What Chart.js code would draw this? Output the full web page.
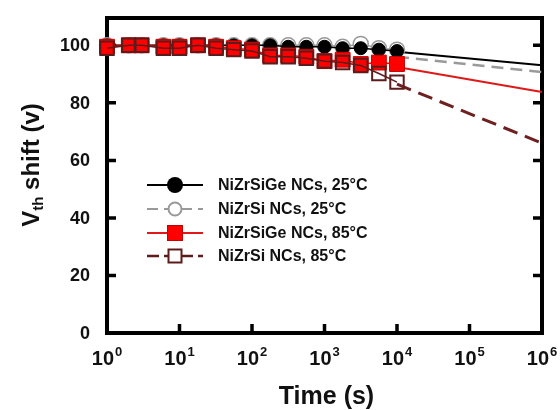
<!DOCTYPE html>
<html>
<head>
<meta charset="utf-8">
<script src="https://cdn.jsdelivr.net/npm/chart.js@4.4.1/dist/chart.umd.min.js"></script>
<style>
  html, body { margin: 0; padding: 0; background: #ffffff; }
  #wrap { width: 560px; height: 410px; }
</style>
</head>
<body>
<div id="wrap"><canvas id="c" width="560" height="410"></canvas></div>
<script>
// ---- data ----
const timeS = [1, 2, 3, 6, 10, 18, 32, 56, 100, 178, 316, 562, 1000, 1778, 3162, 5623, 10000];
const niZrSiGe25 = [100, 100, 100, 100, 100, 100, 100, 100, 100, 100, 99.5, 99.5, 99.5, 99, 99, 98.5, 98];
const niZrSi25   = [100, 100, 100, 100, 100, 100, 100, 100, 100, 100, 100, 100, 100, 99.5, 100.5, 99, 98.5];
const niZrSiGe85 = [99.5, 100, 100, 99.5, 99.5, 100, 99.5, 99, 98.5, 96.5, 96.5, 96, 94.5, 95, 93.5, 94, 93.5];
const niZrSi85   = [99, 100, 100, 99, 99, 100, 99, 98.5, 98, 96, 96, 95.5, 94.5, 94, 93, 90.2, 87.2];

const fitTimes = [10000, 1000000];
const fitNiZrSiGe25 = [97.8, 93.1];
const fitNiZrSi25   = [96.0, 90.7];
const fitNiZrSiGe85 = [92.5, 83.8];
const fitNiZrSi85   = [86.5, 66.0];

const seriesLabels = ['NiZrSiGe NCs, 25°C', 'NiZrSi NCs, 25°C', 'NiZrSiGe NCs, 85°C', 'NiZrSi NCs, 85°C'];
const yTickValues = [0, 20, 40, 60, 80, 100];
const xTickExponents = [0, 1, 2, 3, 4, 5, 6];
const xTitle = 'Time (s)';
const yTitleMain = 'V';
const yTitleSub = 'th';
const yTitleRest = ' shift (v)';

// ---- styles ----
const C_BLACK = '#000000';
const C_GRAY = '#999999';
const C_RED = '#ff0000';
const C_REDB = '#c40000';
const C_DRED = '#5e1b1b';
const FONT = '"Liberation Sans", Arial, Helvetica, sans-serif';

function pts(xs, ys) { return xs.map((x, i) => ({ x: x, y: ys[i] })); }

const datasets = [
  { data: pts(timeS, niZrSi85), order: 1, borderColor: C_DRED, borderWidth: 1.5, pointStyle: 'rect', pointRadius: 9.5,
    pointBackgroundColor: 'rgba(0,0,0,0)', pointBorderColor: C_DRED, pointBorderWidth: 2, clip: false },
  { data: pts(timeS, niZrSiGe85), order: 2, borderColor: C_RED, borderWidth: 1.5, pointStyle: 'rect', pointRadius: 10.5,
    pointBackgroundColor: C_RED, pointBorderColor: C_REDB, pointBorderWidth: 1, clip: false },
  { data: pts(timeS, niZrSiGe25), order: 3, borderColor: C_BLACK, borderWidth: 1.5, pointStyle: 'circle', pointRadius: 6.5,
    pointBackgroundColor: C_BLACK, pointBorderColor: C_BLACK, pointBorderWidth: 1, clip: false },
  { data: pts(timeS, niZrSi25), order: 4, borderColor: C_GRAY, borderWidth: 1.5, pointStyle: 'circle', pointRadius: 7.5,
    pointBackgroundColor: '#ffffff', pointBorderColor: C_GRAY, pointBorderWidth: 1.5, clip: false },
  { data: pts(fitTimes, fitNiZrSiGe25), order: 10, borderColor: C_BLACK, borderWidth: 2, pointRadius: 0, clip: false },
  { data: pts(fitTimes, fitNiZrSi25), order: 11, borderColor: '#9a9a9a', borderWidth: 2.5, borderDash: [12, 7], pointRadius: 0, clip: false },
  { data: pts(fitTimes, fitNiZrSiGe85), order: 12, borderColor: '#e01818', borderWidth: 2, pointRadius: 0, clip: false },
  { data: pts(fitTimes, fitNiZrSi85), order: 13, borderColor: '#6e2020', borderWidth: 3, borderDash: [15, 8], pointRadius: 0, clip: false }
];

const framePlugin = {
  id: 'frame',
  beforeDatasetsDraw(chart) {
    const { ctx, chartArea: a, scales } = chart;
    ctx.save();
    ctx.strokeStyle = '#000';
    ctx.lineWidth = 4;
    ctx.strokeRect(a.left, a.top, a.right - a.left, a.bottom - a.top);
    ctx.lineWidth = 3.5;
    ctx.beginPath();
    yTickValues.forEach(v => {
      if (v === 0) return;
      const y = scales.y.getPixelForValue(v);
      ctx.moveTo(a.left, y); ctx.lineTo(a.left + 9, y);
      ctx.moveTo(a.right, y); ctx.lineTo(a.right - 9, y);
    });
    xTickExponents.forEach(e => {
      if (e === 0 || e === 6) return;
      const x = scales.x.getPixelForValue(Math.pow(10, e));
      ctx.moveTo(x, a.bottom); ctx.lineTo(x, a.bottom - 9);
    });
    ctx.stroke();
    ctx.restore();
  },
  afterDraw(chart) {
    const { ctx, chartArea: a, scales } = chart;
    ctx.save();
    ctx.fillStyle = '#111';
    // y tick labels
    ctx.font = 'bold 18px ' + FONT;
    ctx.textAlign = 'right';
    ctx.textBaseline = 'middle';
    yTickValues.forEach(v => {
      ctx.fillText(String(v), 90, scales.y.getPixelForValue(v) + 1);
    });
    // x tick labels 10^n
    ctx.textBaseline = 'alphabetic';
    ctx.textAlign = 'left';
    xTickExponents.forEach(e => {
      const x = scales.x.getPixelForValue(Math.pow(10, e));
      ctx.font = 'bold 20px ' + FONT;
      const wb = ctx.measureText('10').width;
      ctx.font = 'bold 13px ' + FONT;
      const ws = ctx.measureText(String(e)).width;
      const x0 = x - (wb + ws + 1) / 2;
      ctx.font = 'bold 20px ' + FONT;
      ctx.fillText('10', x0, a.bottom + 32);
      ctx.font = 'bold 13px ' + FONT;
      ctx.fillText(String(e), x0 + wb + 1, a.bottom + 23);
    });
    // x title
    ctx.font = 'bold 25px ' + FONT;
    ctx.textAlign = 'center';
    ctx.fillText(xTitle, (a.left + a.right) / 2 + 2, 404);
    // y title (rotated, with subscript)
    ctx.translate(39, 165);
    ctx.rotate(-Math.PI / 2);
    ctx.textAlign = 'left';
    ctx.font = 'bold 24px ' + FONT;
    const w1 = ctx.measureText(yTitleMain).width;
    const w3 = ctx.measureText(yTitleRest).width;
    ctx.font = 'bold 15px ' + FONT;
    const w2 = ctx.measureText(yTitleSub).width;
    let sx = -(w1 + w2 + w3) / 2;
    ctx.font = 'bold 24px ' + FONT;
    ctx.fillText(yTitleMain, sx, 0);
    ctx.font = 'bold 15px ' + FONT;
    ctx.fillText(yTitleSub, sx + w1, 4);
    ctx.font = 'bold 24px ' + FONT;
    ctx.fillText(yTitleRest, sx + w1 + w2, 0);
    ctx.restore();

    // legend
    const rows = [185, 209, 233, 256];
    const lx0 = 147, lx1 = 203, mx = 175, tx = 218;
    ctx.save();
    rows.forEach((y, i) => {
      ctx.beginPath();
      ctx.setLineDash(i === 1 ? [11, 6] : (i === 3 ? [12, 5] : []));
      ctx.lineWidth = i === 3 ? 2.5 : 2;
      ctx.strokeStyle = [C_BLACK, '#9a9a9a', '#e01818', C_DRED][i];
      ctx.moveTo(lx0, y); ctx.lineTo(lx1, y);
      ctx.stroke();
      ctx.setLineDash([]);
      if (i === 0) {
        ctx.beginPath(); ctx.arc(mx, y, 8, 0, Math.PI * 2);
        ctx.fillStyle = C_BLACK; ctx.fill();
      } else if (i === 1) {
        ctx.beginPath(); ctx.arc(mx, y, 6.5, 0, Math.PI * 2);
        ctx.fillStyle = '#fff'; ctx.fill();
        ctx.lineWidth = 2; ctx.strokeStyle = C_GRAY; ctx.stroke();
      } else if (i === 2) {
        ctx.fillStyle = C_RED; ctx.fillRect(mx - 7.5, y - 7.5, 15, 15);
        ctx.lineWidth = 1; ctx.strokeStyle = C_REDB; ctx.strokeRect(mx - 7.5, y - 7.5, 15, 15);
      } else {
        ctx.fillStyle = '#fff'; ctx.fillRect(mx - 6.5, y - 6.5, 13, 13);
        ctx.lineWidth = 2; ctx.strokeStyle = C_DRED; ctx.strokeRect(mx - 6.5, y - 6.5, 13, 13);
      }
      ctx.fillStyle = '#111';
      ctx.font = 'bold 16px ' + FONT;
      ctx.textAlign = 'left';
      ctx.textBaseline = 'middle';
      ctx.fillText(seriesLabels[i], tx, y + 1);
    });
    ctx.restore();
  }
};

new Chart(document.getElementById('c'), {
  type: 'line',
  data: { datasets: datasets },
  options: {
    responsive: false,
    animation: false,
    layout: { padding: { left: 107, right: 18, top: 18, bottom: 77 } },
    plugins: { legend: { display: false }, tooltip: { enabled: false } },
    elements: { line: { tension: 0 } },
    scales: {
      x: { type: 'logarithmic', min: 1, max: 1000000, display: false },
      y: { type: 'linear', min: 0, max: 109.5, display: false }
    }
  },
  plugins: [framePlugin]
});
</script>
</body>
</html>
